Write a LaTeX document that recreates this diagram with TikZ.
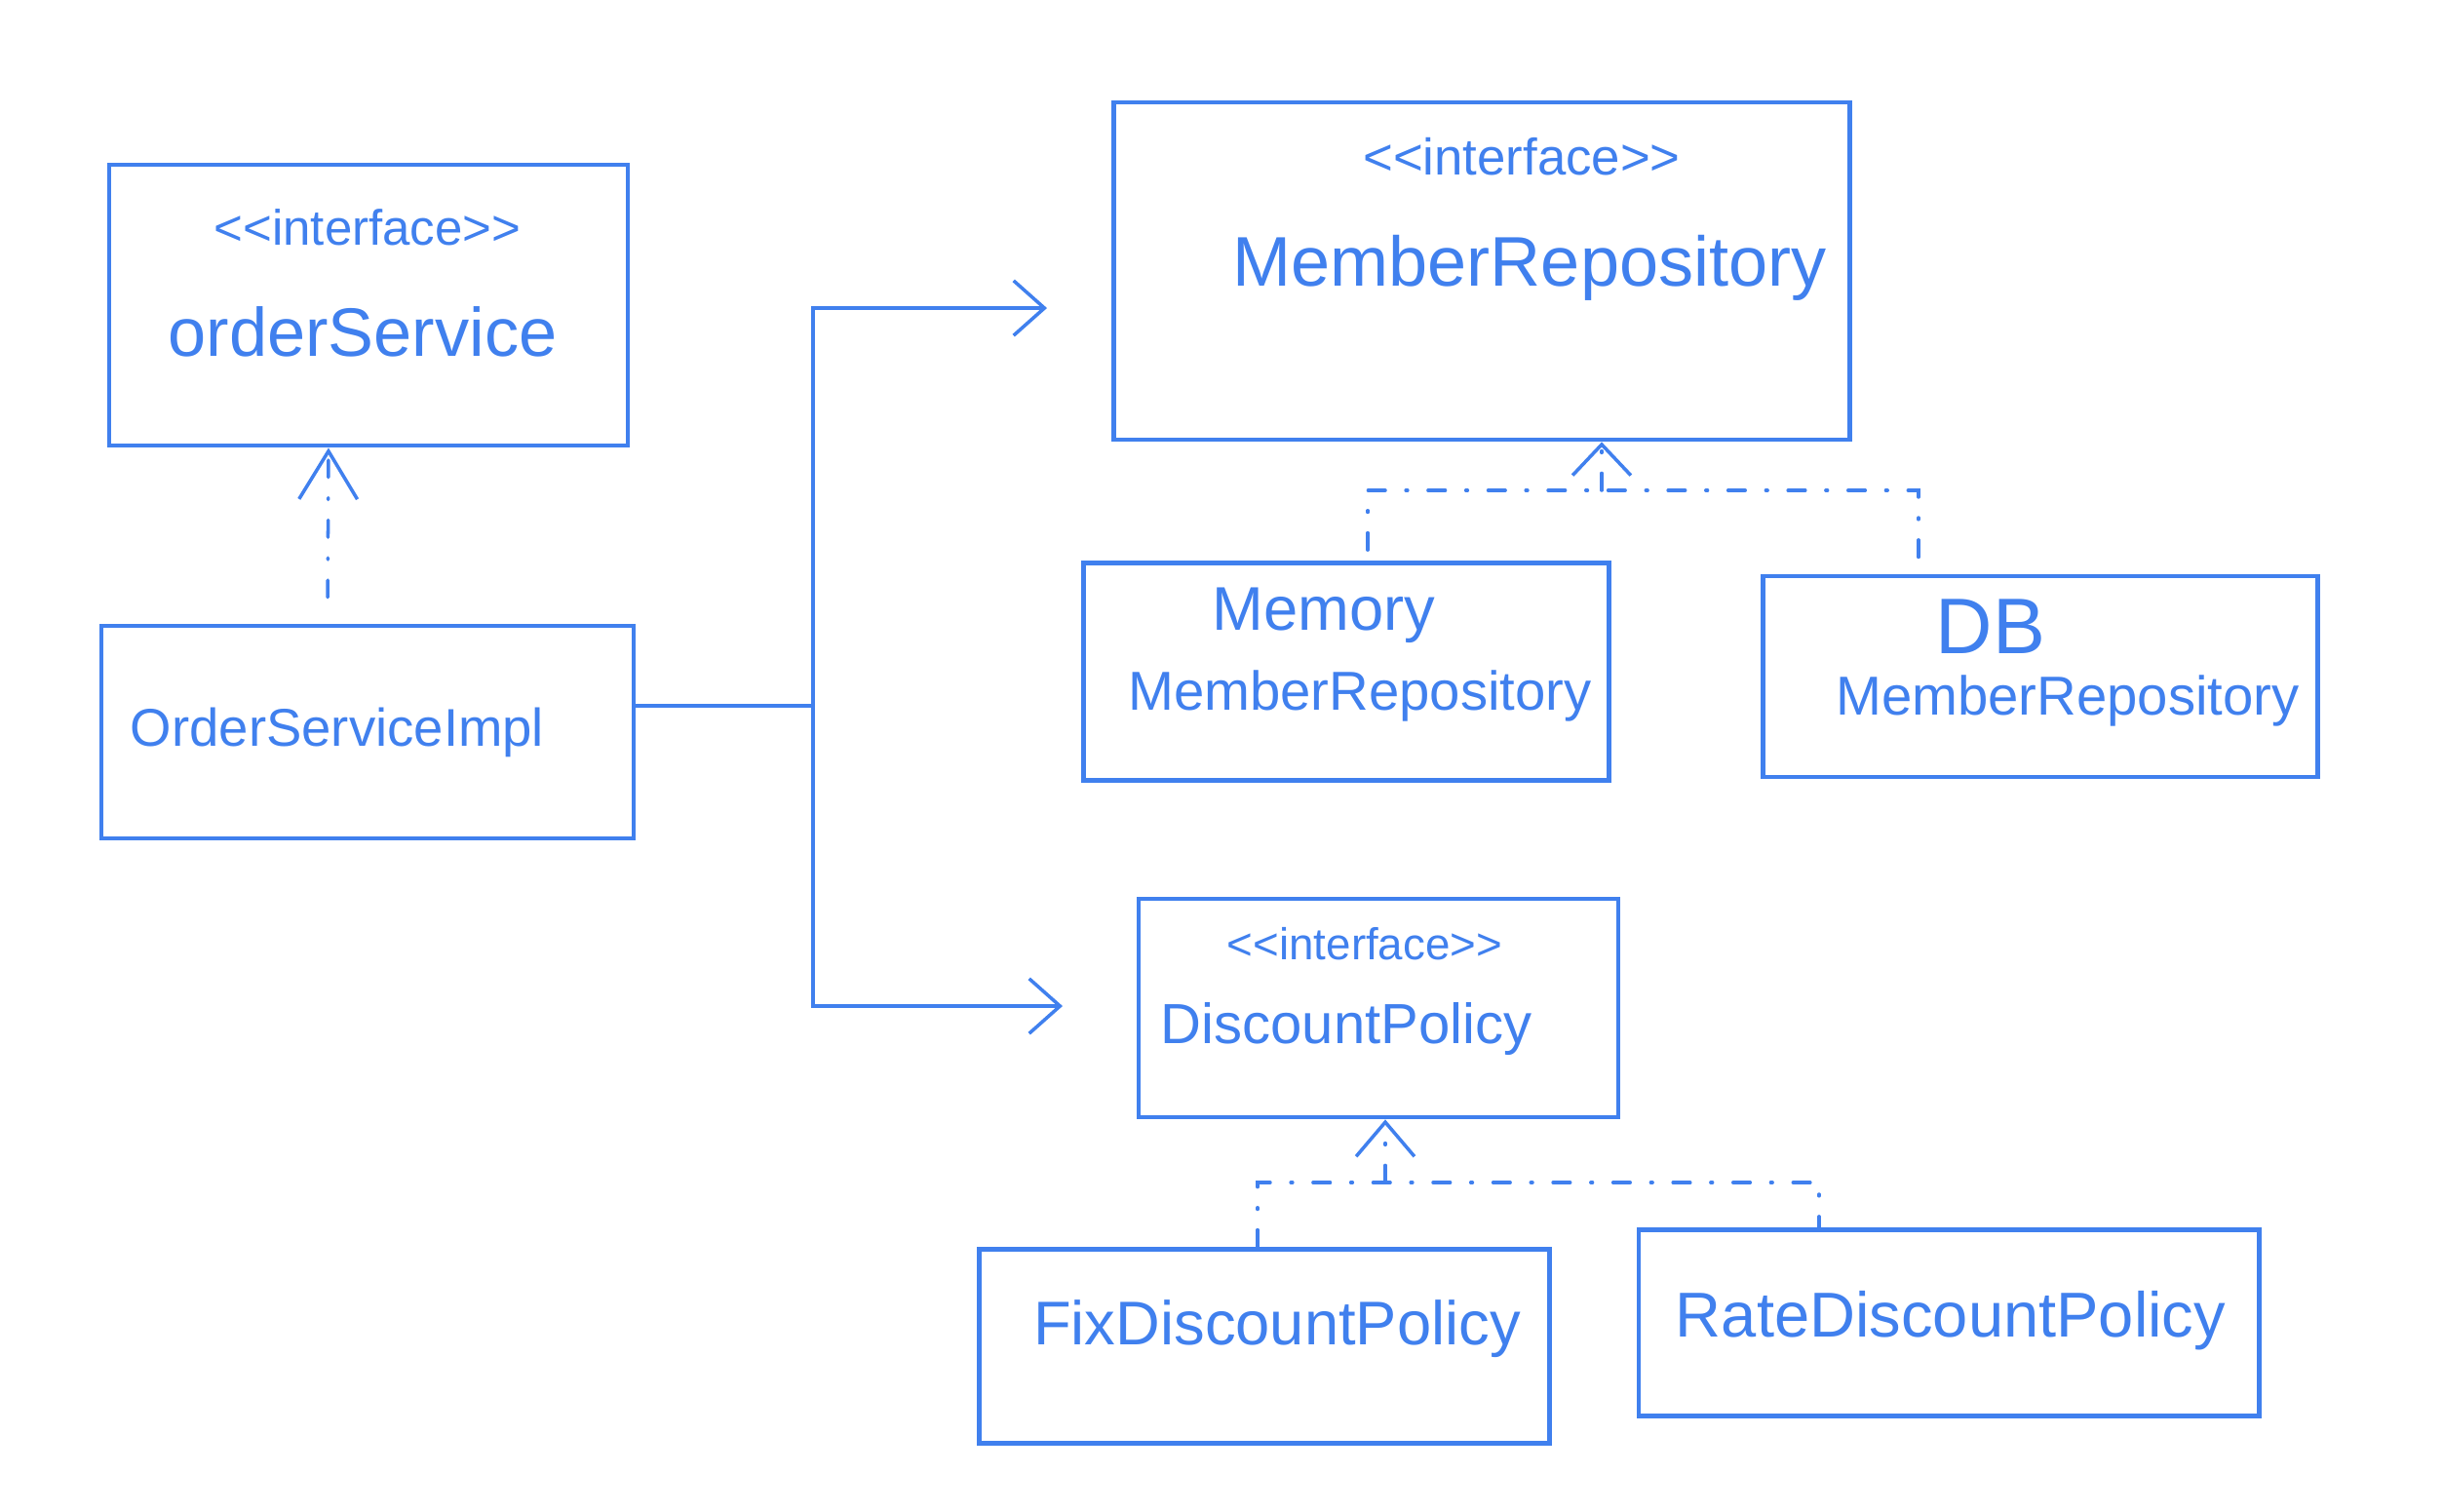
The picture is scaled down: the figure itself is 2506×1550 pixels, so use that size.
\documentclass[tikz,border=0pt]{standalone}
\usepackage{fontspec}
\setmainfont{Liberation Sans}
\usepackage{tikz}
\usetikzlibrary{arrows.meta,positioning}

\definecolor{pen}{RGB}{64,128,238}
\newcommand{\ifc}{<\kern0pt<interface>\kern0pt>}
\newcommand{\fsz}[1]{\fontsize{#1}{#1}\selectfont}
\tikzset{
	cls/.style={draw=pen, line width=1.3pt, inner sep=0pt},
	txt/.style={text=pen, inner sep=0pt},
	uses/.style={draw=pen, line width=1pt, -{Straight Barb[length=9pt,width=16pt,line width=1pt]}},
	realize/.style={draw=pen, line width=1pt, line cap=round, dash pattern=on 5pt off 6pt on 0.5pt off 6pt},
	realtip/.style={-{Straight Barb[length=#1,width=17pt,line width=1pt]}},
	realtip/.default=9pt,
}

\begin{document}
\begin{tikzpicture}[x=0.01cm, y=-0.01cm]
			\useasboundingbox (0,0) rectangle (2506,1550);
			\node[cls, minimum width=5.32cm, minimum height=2.88cm] (ordsvc) at (378,313) {};
			\node[cls, minimum width=5.46cm, minimum height=2.18cm] (impl) at (377,751) {};
			\node[cls, minimum width=7.55cm, minimum height=3.46cm] (memrepo) at (1520,278) {};
			\node[cls, minimum width=5.39cm, minimum height=2.23cm] (memory) at (1381,689) {};
			\node[cls, minimum width=5.69cm, minimum height=2.06cm] (dbrepo) at (2093,694) {};
			\node[cls, minimum width=4.92cm, minimum height=2.24cm] (discount) at (1414,1034) {};
			\node[cls, minimum width=5.85cm, minimum height=1.99cm] (fix) at (1297,1381) {};
			\node[cls, minimum width=6.36cm, minimum height=1.91cm] (rate) at (1999,1357) {};

			\node[txt, font=\fsz{14.5}] (ordifc) at (377,233) {\ifc};
			\node[txt, font=\fsz{20}] (ordname) at (372,340) {orderService};
			\node[txt, font=\fsz{15.5}] (implname) at (346,751) {OrderServiceImpl};
			\node[txt, font=\fsz{15}] (memifc) at (1561,161) {\ifc};
			\node[txt, font=\fsz{20.5}] (memname) at (1569,275) {MemberRepository};
			\node[txt, font=\fsz{18}] (memoryname) at (1358,631) {Memory};
			\node[txt, font=\fsz{16}] (memoryrepo) at (1395,714) {MemberRepository};
			\node[txt, font=\fsz{23}] (dbname) at (2042,643) {DB};
			\node[txt, font=\fsz{16}] (dbreponame) at (2121,719) {MemberRepository};
			\node[txt, font=\fsz{13}] (discifc) at (1400,968) {\ifc};
			\node[txt, font=\fsz{16.5}] (discname) at (1381,1055) {DiscountPolicy};
			\node[txt, font=\fsz{18}] (fixname) at (1310,1363) {FixDiscountPolicy};
			\node[txt, font=\fsz{18.5}] (ratename) at (2001,1355) {RateDiscountPolicy};

			\coordinate (junc) at (834,724);
			\coordinate (memin) at (1074,316);
			\coordinate (discin) at (1090,1032);
			\coordinate (mjoin) at (1643,503);
			\coordinate (djoin) at (1421,1213);

			\draw[draw=pen, line width=1pt] (impl.east |- junc) -- (junc);
			\draw[uses] (junc) |- (memin);
			\draw[uses] (junc) |- (discin);

			\draw[realize, realtip=14pt, shorten <=0.27cm] ([xshift=-0.41cm]impl.north) -- ([xshift=-0.41cm]ordsvc.south);

			\draw[realize] ([xshift=0.22cm]memory.north) ++(0,-11) |- (mjoin) -| ([xshift=-1.25cm]dbrepo.north);
			\draw[realize, realtip] (mjoin) -- (mjoin |- memrepo.south);

			\draw[realize] ([xshift=-0.07cm]fix.north) |- (djoin) -| ([xshift=-1.33cm]rate.north);
			\draw[realize, realtip=10pt] (djoin) -- (djoin |- discount.south);
		\end{tikzpicture}
\end{document}
